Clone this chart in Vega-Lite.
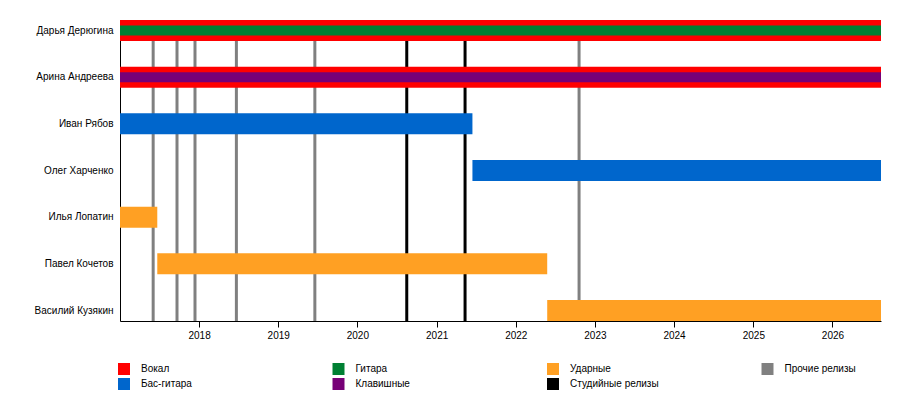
{
  "$schema": "https://vega.github.io/schema/vega-lite/v6.json",
  "description": "Band members timeline",
  "width": 761,
  "height": 301,
  "autosize": {"type": "none"},
  "padding": {"left": 120, "top": 20, "right": 19, "bottom": 99},
  "datasets": {
    "members": [
      {"name": "Дарья Дерюгина", "role": "Вокал", "tier": "outer", "start": "2017-01-01", "end": "2026-08-13"},
      {"name": "Дарья Дерюгина", "role": "Гитара", "tier": "inner", "start": "2017-01-01", "end": "2026-08-13"},
      {"name": "Арина Андреева", "role": "Вокал", "tier": "outer", "start": "2017-01-01", "end": "2026-08-13"},
      {"name": "Арина Андреева", "role": "Клавишные", "tier": "inner", "start": "2017-01-01", "end": "2026-08-13"},
      {"name": "Иван Рябов", "role": "Бас-гитара", "tier": "outer", "start": "2017-01-01", "end": "2021-06-15"},
      {"name": "Олег Харченко", "role": "Бас-гитара", "tier": "outer", "start": "2021-06-15", "end": "2026-08-13"},
      {"name": "Илья Лопатин", "role": "Ударные", "tier": "outer", "start": "2017-01-01", "end": "2017-06-22"},
      {"name": "Павел Кочетов", "role": "Ударные", "tier": "outer", "start": "2017-06-22", "end": "2022-05-26"},
      {"name": "Василий Кузякин", "role": "Ударные", "tier": "outer", "start": "2022-05-26", "end": "2026-08-13"}
    ],
    "releases": [
      {"date": "2017-06-03", "role": "Прочие релизы"},
      {"date": "2017-09-21", "role": "Прочие релизы"},
      {"date": "2017-12-13", "role": "Прочие релизы"},
      {"date": "2018-06-22", "role": "Прочие релизы"},
      {"date": "2019-06-19", "role": "Прочие релизы"},
      {"date": "2020-08-16", "role": "Студийные релизы"},
      {"date": "2021-05-12", "role": "Студийные релизы"},
      {"date": "2022-10-20", "role": "Прочие релизы"}
    ]
  },
  "layer": [
    {
      "data": {"name": "releases"},
      "mark": {"type": "rule", "strokeWidth": 3},
      "encoding": {
        "x": {"field": "date", "type": "temporal"}
      }
    },
    {
      "data": {"name": "members"},
      "transform": [{"filter": "datum.tier === 'outer'"}],
      "mark": {"type": "bar"},
      "encoding": {
        "y": {"field": "name", "type": "nominal"},
        "x": {"field": "start", "type": "temporal"},
        "x2": {"field": "end"}
      }
    },
    {
      "data": {"name": "members"},
      "transform": [{"filter": "datum.tier === 'inner'"}],
      "mark": {"type": "bar", "height": 10},
      "encoding": {
        "y": {"field": "name", "type": "nominal"},
        "x": {"field": "start", "type": "temporal"},
        "x2": {"field": "end"}
      }
    }
  ],
  "encoding": {
    "x": {
      "type": "temporal",
      "title": null,
      "scale": {
        "type": "utc",
        "domain": [
          {"year": 2017, "month": 1, "date": 1, "utc": true},
          {"year": 2026, "month": 8, "date": 13, "utc": true}
        ]
      },
      "axis": {
        "values": [
          {"year": 2018, "month": 1, "date": 1, "utc": true},
          {"year": 2019, "month": 1, "date": 1, "utc": true},
          {"year": 2020, "month": 1, "date": 1, "utc": true},
          {"year": 2021, "month": 1, "date": 1, "utc": true},
          {"year": 2022, "month": 1, "date": 1, "utc": true},
          {"year": 2023, "month": 1, "date": 1, "utc": true},
          {"year": 2024, "month": 1, "date": 1, "utc": true},
          {"year": 2025, "month": 1, "date": 1, "utc": true},
          {"year": 2026, "month": 1, "date": 1, "utc": true}
        ],
        "format": "%Y",
        "grid": false,
        "tickSize": 6,
        "labelPadding": 3
      }
    },
    "y": {
      "type": "nominal",
      "title": null,
      "scale": {
        "domain": ["Дарья Дерюгина", "Арина Андреева", "Иван Рябов", "Олег Харченко", "Илья Лопатин", "Павел Кочетов", "Василий Кузякин"],
        "paddingInner": 0.55,
        "paddingOuter": 0
      },
      "axis": {"ticks": false, "labelPadding": 7, "grid": false}
    },
    "color": {
      "field": "role",
      "type": "nominal",
      "scale": {
        "domain": ["Вокал", "Гитара", "Ударные", "Прочие релизы", "Бас-гитара", "Клавишные", "Студийные релизы"],
        "range": ["#FF0000", "#008033", "#FFA023", "#808080", "#0066CC", "#770077", "#000000"]
      },
      "legend": {
        "title": null,
        "orient": "none",
        "legendX": -2,
        "legendY": 343,
        "columns": 4,
        "direction": "horizontal",
        "gridAlign": "all",
        "columnPadding": 102.5,
        "rowPadding": 3,
        "padding": 0,
        "symbolType": "square",
        "symbolSize": 144,
        "symbolStrokeWidth": 0,
        "symbolOpacity": 1,
        "labelOffset": 11,
        "labelFontSize": 10,
        "labelFont": "Liberation Sans",
        "labelColor": "#000000"
      }
    }
  },
  "config": {
    "view": {"stroke": null},
    "font": "Liberation Sans",
    "axis": {
      "labelFont": "Liberation Sans",
      "labelFontSize": 10,
      "labelColor": "#000000",
      "domainColor": "#000000",
      "tickColor": "#000000",
      "domainWidth": 1
    }
  }
}
